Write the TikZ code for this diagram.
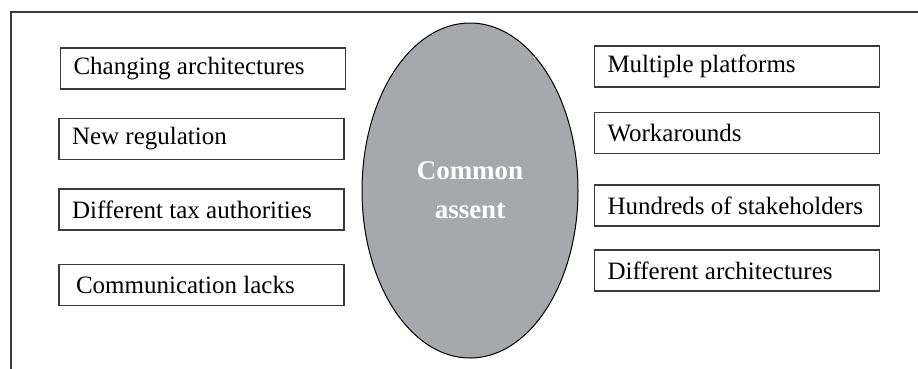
\documentclass[tikz,border=0pt]{standalone}
\usepackage{fontspec}
\setmainfont{Liberation Serif}
\usetikzlibrary{shapes.geometric}
\definecolor{assentgray}{HTML}{A7A8AB}
\definecolor{framegray}{HTML}{3A3A3A}
\newcommand{\factortext}[1]{\makebox[259pt][l]{#1}}
\tikzset{
    factor/.style={draw=framegray, line width=1.3pt, minimum width=285pt, minimum height=41pt,
        inner xsep=13pt, font=\fontsize{25}{29}\selectfont},
    core/.style={ellipse, draw=black, line width=1pt, fill=assentgray, minimum width=216pt,
        minimum height=335pt, inner sep=0pt, text=white, align=center,
        font=\bfseries\fontsize{27}{39}\selectfont}
}
\begin{document}
\begin{tikzpicture}[x=1pt, y=-1pt]
    \useasboundingbox (0,0) rectangle (918,368);
    \draw[framegray, line width=1.3pt] (11,12) rectangle (960,420);
    % centre
    \node[core] (assent) at (470,190.5) {Common\\assent};
    % left side
    \node[factor] (changing) at (203,68.5) {\factortext{Changing architectures}};
    \node[factor] (regulation) at (201.5,139) {\factortext{New regulation}};
    \node[factor] (tax) at (201.5,209.5) {\factortext{Different tax authorities}};
    \node[factor] (communication) at (201.5,285) {\factortext{\hspace{4pt}Communication lacks}};
    % right side
    \node[factor] (platforms) at (737,66.5) {\factortext{Multiple platforms}};
    \node[factor] (workarounds) at (737,133) {\factortext{Workarounds}};
    \node[factor] (stakeholders) at (737,205.5) {\factortext{Hundreds of stakeholders}};
    \node[factor] (architectures) at (737,270.5) {\factortext{Different architectures}};
\end{tikzpicture}
\end{document}
